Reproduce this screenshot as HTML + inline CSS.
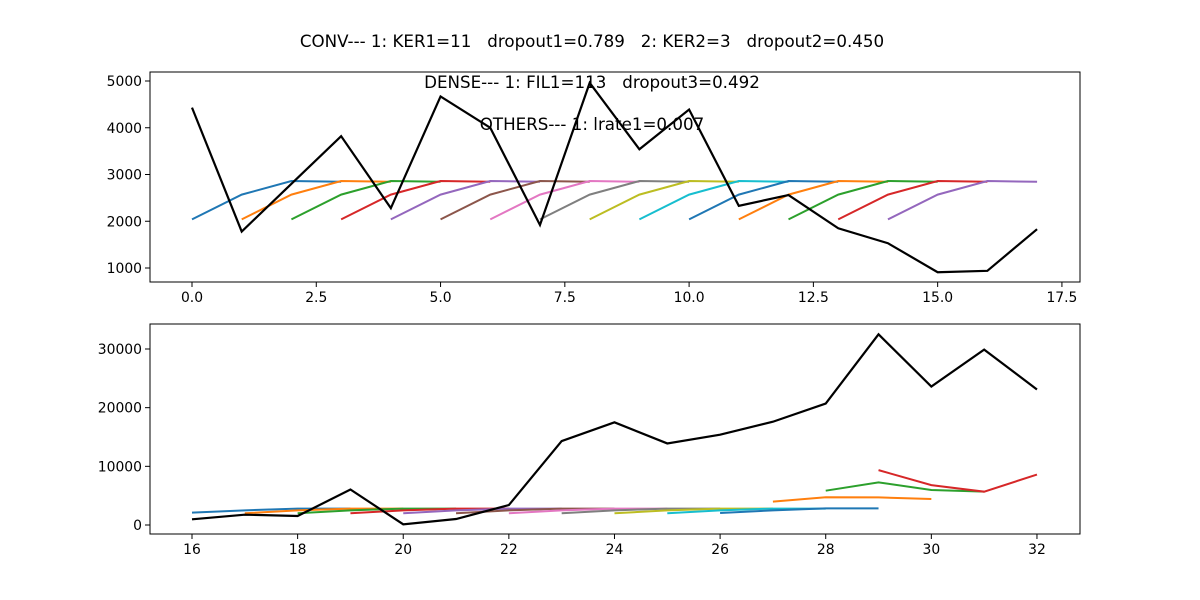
<!DOCTYPE html>
<html><head><meta charset="utf-8"><style>body{margin:0;background:#fff}svg{display:block;font-family:"DejaVu Sans","Liberation Sans",sans-serif}text{white-space:pre}</style></head>
<body>
<svg id="fig" width="1200" height="600" xmlns="http://www.w3.org/2000/svg">
<rect width="1200" height="600" fill="#fff"/>
<text x="592" y="47" font-size="16.7" text-anchor="middle">CONV--- 1: KER1=11&#160;&#160;&#160;dropout1=0.789&#160;&#160;&#160;2: KER2=3&#160;&#160;&#160;dropout2=0.450</text>
<g id="top"></g><g id="bot"></g>
<text x="592" y="88" font-size="16.7" text-anchor="middle">DENSE--- 1: FIL1=113&#160;&#160;&#160;dropout3=0.492</text>
<text x="592" y="130" font-size="16.7" text-anchor="middle">OTHERS--- 1: lrate1=0.007</text>
</svg>
<script>
const colors=["#1f77b4","#ff7f0e","#2ca02c","#d62728","#9467bd","#8c564b","#e377c2","#7f7f7f","#bcbd22","#17becf"];
const topSeg=[2040,2570,2860,2845];
const topStarts=[0,1,2,3,4,5,6,7,8,9,10,11,12,13,14];
const topBlack=[4430,1780,2800,3820,2280,4670,4000,1920,4960,3540,4390,2330,2560,1850,1530,910,940,1830];
const topXTicks=[0,2.5,5,7.5,10,12.5,15,17.5];
const topYTicks=[1000,2000,3000,4000,5000];
const botStarts=[16,17,18,19,20,21,22,23,24,25,26,27,28,29];
const botSegs=[[2100,2500,2800,2800],[2000,2500,2800,2800],[2000,2500,2800,2800],[2000,2500,2800,2800],[2000,2500,2800,2800],[2000,2500,2800,2800],[2000,2500,2800,2800],[2000,2500,2800,2800],[2000,2500,2800,2800],[2000,2500,2800,2800],[2050,2500,2840,2840],[3980,4720,4700,4430],[5850,7270,5970,5680],[9350,6800,5680,8600]];
const botBlack=[970,1760,1530,6050,110,1020,3400,14300,17500,13900,15400,17600,20700,32500,23600,29900,23100];
const botXTicks=[16,18,20,22,24,26,28,30,32];
const botYTicks=[0,10000,20000,30000];
const NS="http://www.w3.org/2000/svg";
function mk(p,t,a){const e=document.createElementNS(NS,t);for(const k in a)e.setAttribute(k,a[k]);p.appendChild(e);return e;}
function panel(g,ax,X,Y,xt,yt,fmt,segs,black,name){
  const sx=v=>X[0]+(v-X[2])*X[1], sy=v=>Y[0]-(v-Y[2])*Y[1];
  segs.forEach((s,i)=>{
    const pl=mk(g,"polyline",{points:s.vals.map((v,j)=>sx(s.start+j)+","+sy(v)).join(" "),fill:"none",stroke:colors[i%10],"stroke-width":2});
    
    
  });
  const bl=mk(g,"polyline",{points:black.map((v,j)=>sx(X[2]+j)+","+sy(v)).join(" "),fill:"none",stroke:"#000","stroke-width":2.2});
  
  
  const fr=mk(g,"rect",{x:ax[0],y:ax[1],width:ax[2]-ax[0],height:ax[3]-ax[1],fill:"none",stroke:"#000","stroke-width":1});
  
  
  xt.forEach(v=>{const x=sx(v);mk(g,"line",{x1:x,x2:x,y1:ax[3],y2:ax[3]+5,stroke:"#000"});
    const t=mk(g,"text",{x:x,y:ax[3]+20,"font-size":13.9,"text-anchor":"middle"});t.textContent=fmt(v);
    
    });
  yt.forEach(v=>{const y=sy(v);mk(g,"line",{x1:ax[0]-5,x2:ax[0],y1:y,y2:y,stroke:"#000"});
    const t=mk(g,"text",{x:ax[0]-8,y:y+5,"font-size":13.9,"text-anchor":"end"});t.textContent=v;
    
    });
}
panel(document.getElementById("top"),[150,72,1080,282],[192,49.71,0],[268,0.04675,1000],topXTicks,topYTicks,v=>v.toFixed(1),topStarts.map(s=>({start:s,vals:topSeg})),topBlack,"top");
panel(document.getElementById("bot"),[150,324,1080,534],[192,52.81,16],[525,0.005867,0],botXTicks,botYTicks,v=>String(v),botStarts.map((s,i)=>({start:s,vals:botSegs[i]})),botBlack,"bottom");
</script>
</body></html>
